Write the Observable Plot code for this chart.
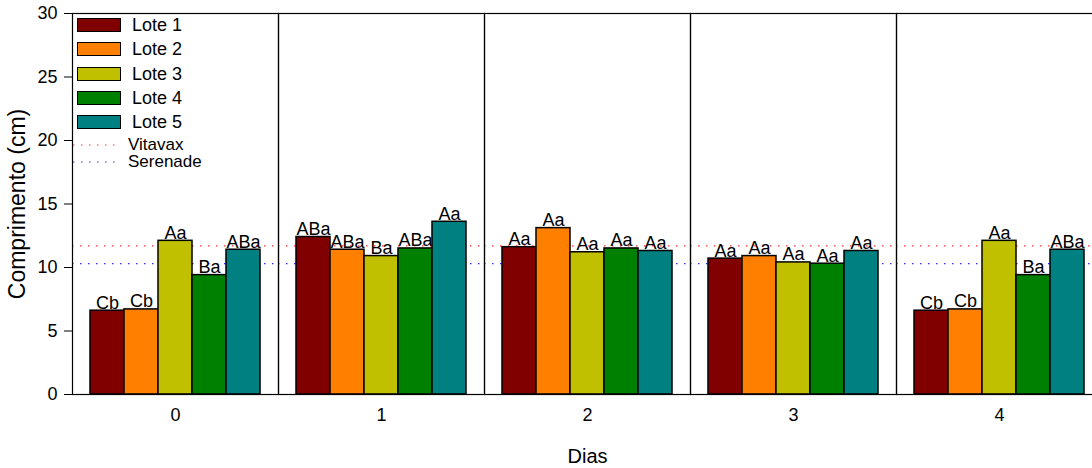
<!DOCTYPE html>
<html>
<head>
<meta charset="utf-8">
<script src="https://cdn.jsdelivr.net/npm/d3@7"></script>
<script src="https://cdn.jsdelivr.net/npm/@observablehq/plot@0.6"></script>
<style>
  html, body { margin: 0; padding: 0; background: #fff; overflow: hidden; }
  #chart { position: relative; width: 1092px; height: 468px; font-family: "Liberation Sans", Arial, sans-serif; }
  #chart svg { display: block; max-width: none; }
  .legend { position: absolute; left: 0; top: 0; width: 300px; pointer-events: none; }
  .legend .row { position: absolute; display: flex; align-items: center; height: 20px; font-size: 18px; line-height: 20px; color: #000; white-space: nowrap; }
  .legend .row.ref { height: 16px; line-height: 16px; font-size: 17px; }
  .legend .sw { flex: none; width: 42px; height: 12px; border: 1px solid #000; margin-right: 11px; }
  .legend svg.ln { flex: none; margin-right: 11px; }
</style>
</head>
<body>
<div id="chart"></div>
<script>
// Comprimento médio por lote ao longo dos dias de avaliação
const dias = [0, 1, 2, 3, 4];
const lotes = ["Lote 1", "Lote 2", "Lote 3", "Lote 4", "Lote 5"];
const cores = ["#800000", "#ff8000", "#c0c000", "#008000", "#008080"];

const lote1 = [6.6, 12.4, 11.6, 10.7, 6.6];
const lote2 = [6.7, 11.4, 13.1, 10.9, 6.7];
const lote3 = [12.1, 10.9, 11.2, 10.4, 12.1];
const lote4 = [9.4, 11.5, 11.5, 10.3, 9.4];
const lote5 = [11.4, 13.6, 11.3, 11.3, 11.4];

const letras1 = ["Cb", "ABa", "Aa", "Aa", "Cb"];
const letras2 = ["Cb", "ABa", "Aa", "Aa", "Cb"];
const letras3 = ["Aa", "Ba", "Aa", "Aa", "Aa"];
const letras4 = ["Ba", "ABa", "Aa", "Aa", "Ba"];
const letras5 = ["ABa", "Aa", "Aa", "Aa", "ABa"];

// Testemunhas (tratamentos de referência)
const vitavax = 11.7;
const serenade = 10.3;
const refNomes = ["Vitavax", "Serenade"];
const refCores = ["#ff3030", "#3030ff"];

const yTicks = [0, 5, 10, 15, 20, 25, 30];

const valores = [lote1, lote2, lote3, lote4, lote5];
const letras = [letras1, letras2, letras3, letras4, letras5];
const dados = [];
dias.forEach((d, i) => {
  lotes.forEach((l, j) => {
    dados.push({dia: d, lote: l, valor: valores[j][i], letra: letras[j][i]});
  });
});

const font = "'Liberation Sans', Arial, sans-serif";
const dash = "1.5,6.5";

const chart = Plot.plot({
  width: 1092,
  height: 468,
  marginTop: 13,
  marginBottom: 74,
  marginLeft: 72,
  marginRight: -10,
  style: {fontFamily: font, color: "#000", background: "#fff", overflow: "visible"},
  fx: {domain: dias, padding: 0},
  x: {domain: lotes, paddingInner: 0, paddingOuter: 0.443, axis: null},
  y: {domain: [0, 30]},
  color: {domain: lotes, range: cores},
  marks: [
    Plot.ruleY([vitavax], {stroke: refCores[0], strokeWidth: 1.2, strokeDasharray: dash}),
    Plot.ruleY([serenade], {stroke: refCores[1], strokeWidth: 1.2, strokeDasharray: dash}),
    Plot.barY(dados, {fx: "dia", x: "lote", y: "valor", fill: "lote", stroke: "#000", strokeWidth: 1.5}),
    Plot.text(dados, {fx: "dia", x: "lote", y: "valor", text: "letra", lineAnchor: "bottom", dy: -2, fontSize: 18, fill: "#000"}),
    Plot.frame({stroke: "#000", strokeWidth: 1.2}),
    Plot.axisY({ticks: yTicks, tickSize: 8, tickPadding: 7, fontSize: 18, label: "Comprimento (cm)", labelAnchor: "center", labelArrow: "none", labelOffset: 64}),
    Plot.axisFx({anchor: "bottom", tickSize: 0, tickPadding: 14, fontSize: 18, label: "Dias", labelAnchor: "center", labelArrow: "none", labelOffset: 68})
  ]
});

const root = document.getElementById("chart");
root.appendChild(chart);

// Tamanho dos títulos dos eixos
d3.select(chart).selectAll("[aria-label='y-axis label'] text, [aria-label='y-axis label']").style("font-size", "23px");
d3.select(chart).selectAll("[aria-label='fx-axis label'] text, [aria-label='fx-axis label']").style("font-size", "20px");

// Legenda
const legend = document.createElement("div");
legend.className = "legend";
lotes.forEach((l, i) => {
  const row = document.createElement("div");
  row.className = "row";
  row.style.left = "77px";
  row.style.top = (15 + i * 24.3) + "px";
  row.innerHTML = `<span class="sw" style="background:${cores[i]}"></span><span>${l}</span>`;
  legend.appendChild(row);
});
refNomes.forEach((nome, i) => {
  const row = document.createElement("div");
  row.className = "row ref";
  row.style.left = "73px";
  row.style.top = (137 + i * 17) + "px";
  row.innerHTML = `<svg class="ln" width="44" height="4"><line x1="0" x2="44" y1="2" y2="2" stroke="${refCores[i]}" stroke-width="1.2" stroke-dasharray="${dash}"/></svg><span>${nome}</span>`;
  legend.appendChild(row);
});
root.appendChild(legend);
</script>
</body>
</html>
